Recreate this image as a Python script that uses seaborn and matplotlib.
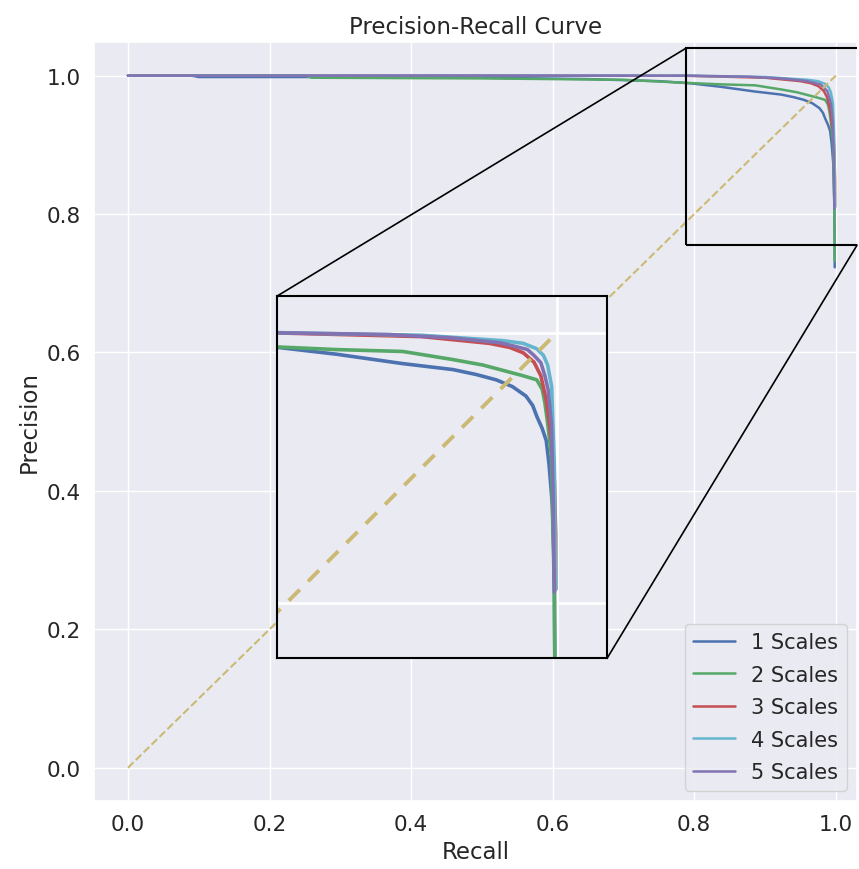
import matplotlib
matplotlib.use("Agg")
import matplotlib.pyplot as plt
import seaborn as sns
from matplotlib.patches import Rectangle, ConnectionPatch

sns.set_theme(style="darkgrid")

# data
labels = ["1 Scales", "2 Scales", "3 Scales", "4 Scales", "5 Scales"]
colors = ["#4C72B0", "#55A868", "#C44E52", "#64B5CD", "#8172B2"]

recall_1 = [0, 0.09, 0.1, 0.3, 0.5, 0.65, 0.75, 0.7936, 0.8366, 0.886, 0.923,
            0.94, 0.955, 0.967, 0.977, 0.982, 0.985, 0.989, 0.992, 0.994,
            0.9955, 0.9966, 0.9975, 0.998, 0.9985]
precision_1 = [1.0, 1.0, 0.998, 0.998, 0.997, 0.995, 0.992, 0.989, 0.984, 0.977,
               0.9726, 0.969, 0.965, 0.960, 0.953, 0.946, 0.938, 0.929, 0.920,
               0.903, 0.885, 0.871, 0.84, 0.81, 0.723]

recall_2 = [0, 0.25, 0.26, 0.5, 0.7, 0.79, 0.837, 0.886, 0.923, 0.945, 0.960,
            0.975, 0.985, 0.989, 0.991, 0.993, 0.9958, 0.9968, 0.998, 0.9985]
precision_2 = [1.0, 1.0, 0.997, 0.996, 0.994, 0.9895, 0.9874, 0.986, 0.980,
               0.976, 0.972, 0.968, 0.965, 0.958, 0.948, 0.933, 0.909, 0.859,
               0.81, 0.732]

recall_3 = [0, 0.5, 0.79, 0.9, 0.95, 0.965, 0.975, 0.983, 0.988, 0.992, 0.996,
            0.998, 0.999, 0.999]
precision_3 = [1.0, 1.0, 0.9998, 0.997, 0.992, 0.989, 0.985, 0.978, 0.968, 0.95,
               0.92, 0.89, 0.85, 0.81]

recall_4 = [0, 0.5, 0.79, 0.9, 0.96, 0.975, 0.985, 0.99, 0.993, 0.996, 0.998,
            0.999]
precision_4 = [1.0, 1.0, 1.0, 0.998, 0.994, 0.992, 0.988, 0.983, 0.976, 0.96,
               0.9, 0.81]

recall_5 = [0, 0.5, 0.793, 0.876, 0.923, 0.958, 0.968, 0.978, 0.983, 0.988,
            0.991, 0.9933, 0.9958, 0.997, 0.998]
precision_5 = [1.0, 1.0, 0.9998, 0.9985, 0.996, 0.9924, 0.990, 0.9875, 0.983,
               0.9777, 0.968, 0.958, 0.933, 0.884, 0.808]

recalls = [recall_1, recall_2, recall_3, recall_4, recall_5]
precisions = [precision_1, precision_2, precision_3, precision_4, precision_5]
diag = [0, 1]

fig = plt.figure(figsize=(8.59, 8.70), dpi=100)
ax = fig.add_axes([0.1094, 0.0782, 0.8883, 0.8727])

for r, p, lab, c in zip(recalls, precisions, labels, colors):
    sns.lineplot(x=r, y=p, ax=ax, label=lab, color=c, lw=1.8,
                 estimator=None, sort=False)
sns.lineplot(x=diag, y=diag, ax=ax, color="#CCB974", lw=1.5,
             linestyle="--", estimator=None, sort=False)

ax.set_xlim(-0.048, 1.03)
ax.set_ylim(-0.048, 1.049)
ax.set_xticks([0, 0.2, 0.4, 0.6, 0.8, 1.0])
ax.set_yticks([0, 0.2, 0.4, 0.6, 0.8, 1.0])
ax.tick_params(labelsize=15.5)
ax.set_title("Precision-Recall Curve", fontsize=16.5)
ax.set_xlabel("Recall", fontsize=16.5)
ax.set_ylabel("Precision", fontsize=16.5)
ax.legend(loc="lower right", fontsize=15, labelspacing=0.6)

# zoomed inset
axins = ax.inset_axes([0.24, 0.188, 0.4325, 0.477])
for r, p, c in zip(recalls, precisions, colors):
    sns.lineplot(x=r, y=p, ax=axins, color=c, lw=2.6,
                 estimator=None, sort=False)
sns.lineplot(x=diag, y=diag, ax=axins, color="#CCB974", lw=2.8,
             linestyle=(0, (4, 3)), estimator=None, sort=False)
axins.set_xlim(0.793, 1.037)
axins.set_ylim(0.759, 1.027)
axins.set_xticks([1.0])
axins.set_yticks([0.8, 1.0])
axins.set_xticklabels([])
axins.set_yticklabels([])
axins.tick_params(length=0)
axins.grid(True, color="white", lw=2)
for s in axins.spines.values():
    s.set_visible(True)
    s.set_color("black")
    s.set_linewidth(1.5)

# zoom box and connectors
rx0, ry0, ry1 = 0.789, 0.755, 1.040
ax.add_patch(Rectangle((rx0, ry0), 0.4, ry1 - ry0, fill=False,
                       edgecolor="black", lw=1.5, zorder=5))
con1 = ConnectionPatch(xyA=(rx0, ry1), coordsA=ax.transData,
                       xyB=(0, 1), coordsB=axins.transAxes,
                       color="black", lw=1.2)
con2 = ConnectionPatch(xyA=(1.0, ry0), coordsA=ax.get_yaxis_transform(),
                       xyB=(1, 0), coordsB=axins.transAxes,
                       color="black", lw=1.2)
fig.add_artist(con1)
fig.add_artist(con2)

plt.savefig("out.png", dpi=100)
